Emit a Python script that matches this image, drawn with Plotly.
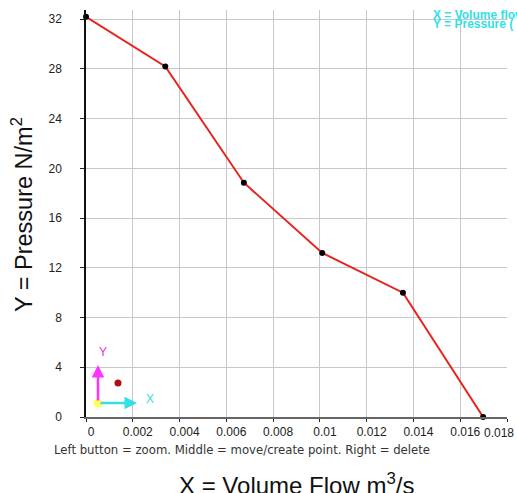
import plotly.graph_objects as go

flow = [0.0, 0.00339, 0.00675, 0.0101, 0.01355, 0.01698]
pressure = [32.2, 28.2, 18.85, 13.2, 10.0, 0.0]
x_ticks = [0, 0.002, 0.004, 0.006, 0.008, 0.01, 0.012, 0.014, 0.016, 0.018]
x_tick_text = ["0", "0.002", "0.004", "0.006", "0.008", "0.01", "0.012", "0.014", "0.016", ""]
last_x_label = "0.018"
y_ticks = [0, 4, 8, 12, 16, 20, 24, 28, 32]

W, H = 517, 493
L, R, T, B = 86, 10, 10, 76
PW, PH = W - L - R, H - T - B

def px(x):
    return (x - L) / PW

def py(y):
    return (H - B - y) / PH

fig = go.Figure()
fig.add_trace(go.Scatter(
    x=flow, y=pressure, mode="lines+markers",
    line=dict(color="#e8231e", width=2),
    marker=dict(color="black", size=6),
    cliponaxis=False, showlegend=False, hoverinfo="skip",
))

font = "Liberation Sans, Arial, sans-serif"
fig.update_layout(
    width=W, height=H,
    margin=dict(l=L, r=R, t=T, b=B, autoexpand=False),
    paper_bgcolor="white", plot_bgcolor="white",
    font=dict(family=font, size=12, color="#222"),
    xaxis=dict(range=[-1e-9, 0.018 + 1e-9], tickvals=x_ticks, ticktext=x_tick_text,
               showgrid=True, gridcolor="#c8c8c8", gridwidth=1,
               showline=True, linecolor="#666", linewidth=1.5,
               ticks="outside", ticklen=3, tickcolor="#222",
               ticklabelshift=5, zeroline=False, automargin=False,
               tickfont=dict(size=12, color="#222")),
    yaxis=dict(range=[0, PH / 12.43], tickvals=y_ticks,
               showgrid=True, gridcolor="#c8c8c8", gridwidth=1,
               showline=True, linecolor="#111", linewidth=1.5,
               ticks="outside", ticklen=4, tickcolor="#222",
               ticklabelstandoff=16, zeroline=False, automargin=False,
               tickfont=dict(size=12, color="#222")),
)

ann = []
ann.append(dict(text=last_x_label, xref="x", yref="paper", x=x_ticks[-1], y=0,
                xanchor="right", yanchor="top", xshift=9, yshift=-7, showarrow=False,
                font=dict(size=12, color="#222", family=font)))
ann.append(dict(text="Left button = zoom. Middle = move/create point. Right = delete",
                xref="paper", yref="paper", x=px(52), y=py(450),
                xanchor="left", yanchor="middle", showarrow=False,
                font=dict(size=11.7, color="#333", family="DejaVu Sans, sans-serif")))
ann.append(dict(text="X = Volume Flow m<sup>3</sup>/s",
                xref="paper", yref="paper", x=px(296), y=py(467),
                xanchor="center", yanchor="top", showarrow=False,
                font=dict(size=24, color="#111", family=font)))
ann.append(dict(text="Y = Pressure N/m<sup>2</sup>",
                xref="paper", yref="paper", x=px(22), y=py(215),
                xanchor="center", yanchor="middle", showarrow=False, textangle=-90,
                font=dict(size=23.5, color="#111", family=font)))
ann.append(dict(text="<b>X = Volume flow</b>",
                xref="paper", yref="paper", x=px(431), y=py(15),
                xanchor="left", yanchor="middle", showarrow=False,
                font=dict(size=12, color="#33e0e6", family=font)))
ann.append(dict(text="<b>Y = Pressure (</b>",
                xref="paper", yref="paper", x=px(431), y=py(24),
                xanchor="left", yanchor="middle", showarrow=False,
                font=dict(size=12, color="#33e0e6", family=font)))
# axis icon
ann.append(dict(text="", xref="paper", yref="paper", x=px(98), y=py(365),
                ax=0, ay=37, axref="pixel", ayref="pixel", showarrow=True,
                arrowhead=2, arrowsize=1, arrowwidth=2.5, arrowcolor="#ff33ff"))
ann.append(dict(text="", xref="paper", yref="paper", x=px(137), y=py(403),
                ax=-38, ay=0, axref="pixel", ayref="pixel", showarrow=True,
                arrowhead=2, arrowsize=1, arrowwidth=2.5, arrowcolor="#33e0e6"))
ann.append(dict(text="Y", xref="paper", yref="paper", x=px(103), y=py(352),
                xanchor="center", yanchor="middle",
                showarrow=False, font=dict(size=12, color="#dd33dd", family=font)))
ann.append(dict(text="X", xref="paper", yref="paper", x=px(150), y=py(399),
                xanchor="center", yanchor="middle",
                showarrow=False, font=dict(size=12, color="#33e0e6", family=font)))
fig.update_layout(annotations=ann)

shapes = []
def dot(cx, cy, r, color):
    shapes.append(dict(type="circle", xref="paper", yref="paper",
                       x0=px(cx - r), x1=px(cx + r), y0=py(cy + r), y1=py(cy - r),
                       fillcolor=color, line=dict(width=0)))
dot(98, 403, 4.5, "#ffff55")
dot(118, 383, 3.5, "#b01010")
fig.update_layout(shapes=shapes)

fig.write_html("out.html", config={"displayModeBar": False},
               post_script="document.body.style.margin='0';document.body.style.overflow='hidden';")
